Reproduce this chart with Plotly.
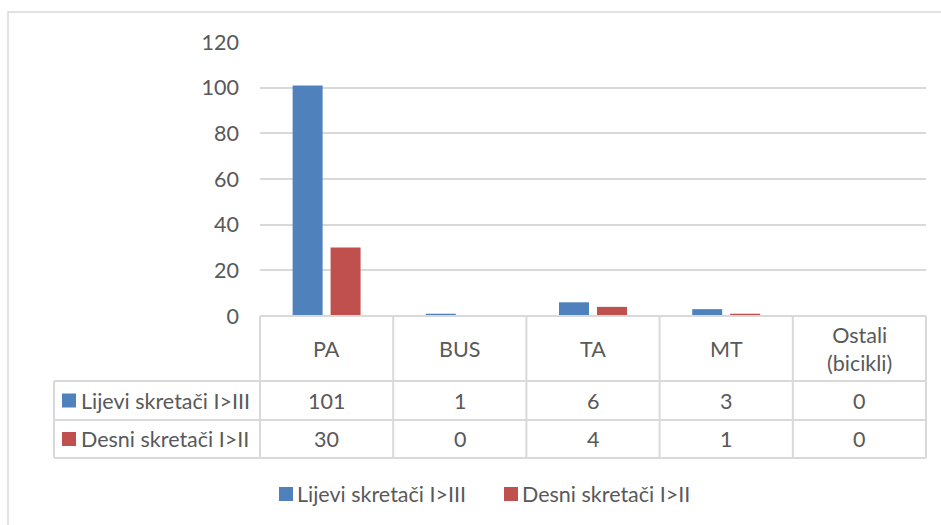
import plotly.graph_objects as go

# ---- data ----
categories = ["PA", "BUS", "TA", "MT", "Ostali<br>(bicikli)"]
series_names = ["Lijevi skretači I>III", "Desni skretači I>II"]
lijevi = [101, 1, 6, 3, 0]
desni = [30, 0, 4, 1, 0]
y_ticks = [0, 20, 40, 60, 80, 100, 120]
series_values = [lijevi, desni]
colors = ["#4F81BD", "#C0504D"]

W, H = 941, 525
FONT = "Lato"
TXT = "#595959"
GRID = "#D9D9D9"
FS = 21.5


def px(x):
    return x / W


def py(y):
    return 1 - y / H


plot_l, plot_r, plot_t, plot_b = 260, 926, 42, 316
tbl_left = 54
row_lines = [316, 381, 420, 458]
ncat = len(categories)
colw = (plot_r - plot_l) / ncat

fig = go.Figure()
for name, vals, col in zip(series_names, series_values, colors):
    fig.add_trace(go.Bar(x=list(range(ncat)), y=vals, name=name,
                         marker=dict(color=col, line=dict(width=0)),
                         showlegend=False, hoverinfo="x+y+name"))

shapes = []
annotations = []

# chart border
shapes.append(dict(type="rect", xref="paper", yref="paper",
                   x0=px(8), x1=px(960), y0=py(12), y1=py(545),
                   line=dict(color=GRID, width=1.5)))

# table horizontal lines
for i, yy in enumerate(row_lines):
    x0 = plot_l if i == 0 else tbl_left
    shapes.append(dict(type="line", xref="paper", yref="paper",
                       x0=px(x0), x1=px(plot_r), y0=py(yy), y1=py(yy),
                       line=dict(color=GRID, width=2)))
# vertical lines
for i in range(ncat + 1):
    xx = plot_l + i * colw
    shapes.append(dict(type="line", xref="paper", yref="paper",
                       x0=px(xx), x1=px(xx), y0=py(row_lines[0]), y1=py(row_lines[-1]),
                       line=dict(color=GRID, width=2)))
shapes.append(dict(type="line", xref="paper", yref="paper",
                   x0=px(tbl_left), x1=px(tbl_left), y0=py(row_lines[1]), y1=py(row_lines[-1]),
                   line=dict(color=GRID, width=2)))

# header cells
for i, c in enumerate(categories):
    annotations.append(dict(x=i, xref="x", y=py((row_lines[0] + row_lines[1]) / 2),
                            yref="paper", text=c, showarrow=False,
                            font=dict(family=FONT, size=FS, color=TXT),
                            xanchor="center", yanchor="middle"))

# value rows + row labels with colour keys
for r, (name, vals, col) in enumerate(zip(series_names, series_values, colors)):
    yc = (row_lines[r + 1] + row_lines[r + 2]) / 2
    for i, v in enumerate(vals):
        annotations.append(dict(x=i, xref="x", y=py(yc), yref="paper",
                                text=str(v), showarrow=False,
                                font=dict(family=FONT, size=FS, color=TXT),
                                xanchor="center", yanchor="middle"))
    shapes.append(dict(type="rect", xref="paper", yref="paper",
                       x0=px(62), x1=px(76), y0=py(yc - 7), y1=py(yc + 7),
                       fillcolor=col, line=dict(width=0)))
    annotations.append(dict(x=px(79), xref="paper", y=py(yc), yref="paper",
                            text=name, showarrow=False,
                            font=dict(family=FONT, size=FS, color=TXT),
                            xanchor="left", yanchor="middle"))

# bottom legend
leg_y = 494
leg_x = [279, 504]
for name, col, lx in zip(series_names, colors, leg_x):
    shapes.append(dict(type="rect", xref="paper", yref="paper",
                       x0=px(lx), x1=px(lx + 14), y0=py(leg_y - 7), y1=py(leg_y + 7),
                       fillcolor=col, line=dict(width=0)))
    annotations.append(dict(x=px(lx + 16), xref="paper", y=py(leg_y), yref="paper",
                            text=name, showarrow=False,
                            font=dict(family=FONT, size=FS, color=TXT),
                            xanchor="left", yanchor="middle"))

fig.update_layout(
    width=W, height=H,
    margin=dict(l=0, r=0, t=0, b=0, pad=0, autoexpand=False),
    paper_bgcolor="white", plot_bgcolor="white",
    barmode="group", bargap=0.43, bargroupgap=0.21,
    shapes=shapes, annotations=annotations, showlegend=False,
    font=dict(family=FONT, size=FS, color=TXT),
    xaxis=dict(domain=[px(plot_l), px(plot_r)], range=[-0.5, ncat - 0.5],
               showticklabels=False, showgrid=False, zeroline=False,
               showline=False, ticks="", automargin=False),
    yaxis=dict(domain=[py(plot_b), py(plot_t)], range=[0, 120],
               tickvals=y_ticks, showgrid=True, gridcolor=GRID, gridwidth=1.5,
               zeroline=False, showline=False, ticks="", automargin=False,
               ticklabelstandoff=20,
               tickfont=dict(family=FONT, size=FS, color=TXT)),
)

fig.write_html(
    "out.html",
    config={"displayModeBar": False},
    post_script=(
        "var d=document.getElementById('{plot_id}');"
        "d.style.position='fixed';d.style.left='0px';d.style.top='0px';"
        "document.body.style.margin='0';"
        "document.documentElement.style.overflow='hidden';"
        "document.body.style.overflow='hidden';"
    ),
)
